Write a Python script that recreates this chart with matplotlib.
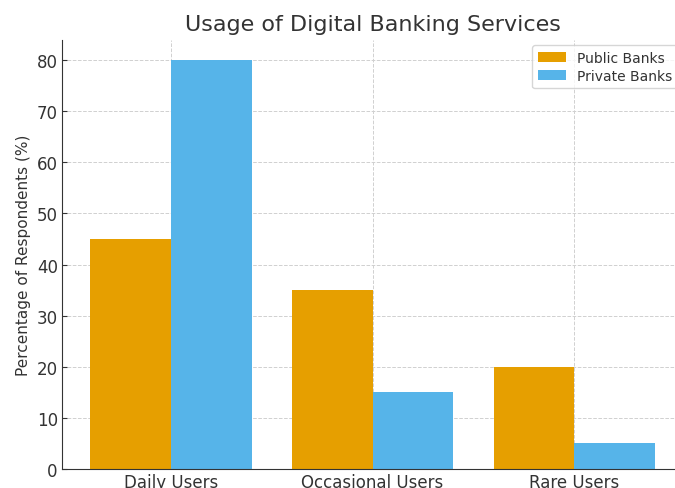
import numpy as np
import matplotlib.pyplot as plt

# Data
categories = ["Daily Users", "Occasional Users", "Rare Users"]
public_banks = [45, 35, 20]
private_banks = [80, 15, 5]

fig = plt.figure(figsize=(6.75, 4.89), dpi=100)
# axes deliberately runs a bit past the right edge like the reference crop
ax = fig.add_axes([0.0919, 0.0389, 0.920, 0.878])

x = np.arange(len(categories))
width = 0.4
ax.bar(x - width / 2, public_banks, width, label="Public Banks", color="#E69F00")
ax.bar(x + width / 2, private_banks, width, label="Private Banks", color="#56B4E9")

ax.set_xticks(x)
ax.set_xticklabels(categories, fontsize=12, color="#333333")
ax.tick_params(axis="both", direction="in", color="#333333", pad=3)
ax.tick_params(axis="y", labelsize=12, labelcolor="#333333")
ax.set_ylabel("Percentage of Respondents (%)", fontsize=11, color="#333333")
ax.set_title("Usage of Digital Banking Services", fontsize=16, color="#333333", pad=7)

ax.set_axisbelow(True)
ax.grid(True, linestyle="--", color="#d0d0d0", linewidth=0.7)
ax.spines["top"].set_visible(False)
ax.spines["right"].set_visible(False)
ax.spines["left"].set_color("#333333")
ax.spines["bottom"].set_color("#333333")

ax.legend(loc="upper right", fontsize=10, labelcolor="#333333",
          labelspacing=0.3, borderaxespad=0.4)

plt.savefig("out.png", dpi=100)
